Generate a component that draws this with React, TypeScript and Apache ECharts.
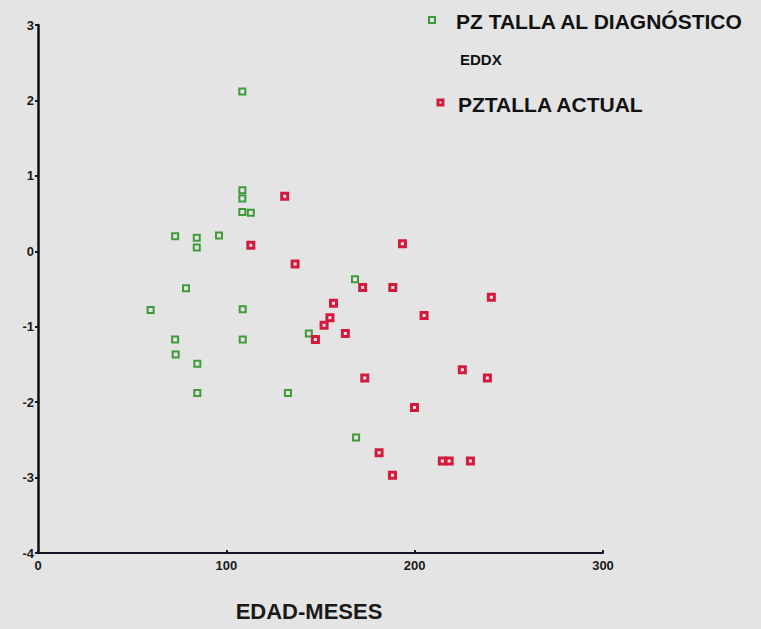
import React, { useEffect, useRef } from "react";
import * as echarts from "echarts";

const diagX = [108.5, 108.5, 108.5, 108.5, 113, 72.8, 84.3, 84.3, 96.1, 78.6, 59.8, 108.7, 72.8, 108.7, 73.1, 84.6, 84.6, 132.7, 143.8, 168.3, 168.9];
const diagY = [2.12, 0.81, 0.7, 0.52, 0.51, 0.2, 0.18, 0.05, 0.21, -0.49, -0.78, -0.77, -1.17, -1.17, -1.37, -1.49, -1.88, -1.88, -1.09, -0.37, -2.47];

const actX = [131, 113, 136.5, 147.3, 193.5, 172.4, 188.4, 240.7, 156.9, 155, 205, 151.9, 163.2, 173.5, 225.3, 238.6, 199.9, 181.1, 214.7, 218.3, 229.6, 188.2];
const actY = [0.73, 0.08, -0.17, -1.17, 0.1, -0.48, -0.48, -0.61, -0.69, -0.88, -0.85, -0.98, -1.09, -1.68, -1.57, -1.68, -2.07, -2.67, -2.78, -2.78, -2.78, -2.97];

const xTicks = [0, 100, 200, 300];
const yTicks = [-4, -3, -2, -1, 0, 1, 2, 3];

const legendDiag = "PZ TALLA AL DIAGNÓSTICO";
const legendSub = "EDDX";
const legendAct = "PZTALLA ACTUAL";
const xTitle = "EDAD-MESES";

const FONT = "'Liberation Sans', Arial, sans-serif";
const GREEN = "#3f9a3a";
const RED = "#d31a3d";

export default function App() {
  const ref = useRef<HTMLDivElement>(null);
  useEffect(() => {
    if (!ref.current) return;
    const chart = echarts.init(ref.current, null, { renderer: "svg" });
    const diag = diagX.map((x, i) => [x, diagY[i]]);
    const act = actX.map((x, i) => [x, actY[i]]);
    chart.setOption({
      animation: false,
      backgroundColor: "#e4e4e4",
      grid: { left: 38, right: 158, top: 25, bottom: 76 },
      xAxis: {
        type: "value",
        min: xTicks[0],
        max: xTicks[xTicks.length - 1],
        interval: 100,
        axisLine: { onZero: false, lineStyle: { color: "#15152a", width: 2 } },
        axisTick: { show: true, length: 3, inside: true, lineStyle: { color: "#1a1a1a", width: 2 } },
        axisLabel: { fontFamily: FONT, fontWeight: "bold", fontSize: 13, color: "#1a1a1a", margin: 6 },
        splitLine: { show: false },
      },
      yAxis: {
        type: "value",
        min: yTicks[0],
        max: yTicks[yTicks.length - 1],
        interval: 1,
        axisLine: { onZero: false, lineStyle: { color: "#111", width: 2.5 } },
        axisTick: { show: true, length: 3, lineStyle: { color: "#1a1a1a", width: 2 } },
        axisLabel: { fontFamily: FONT, fontWeight: "bold", fontSize: 13, color: "#1a1a1a", margin: 4 },
        splitLine: { show: false },
      },
      series: [
        {
          name: legendDiag,
          type: "scatter",
          data: diag,
          symbol: "rect",
          symbolSize: 6,
          itemStyle: { color: "#e4e4e4", borderColor: GREEN, borderWidth: 2, opacity: 1 },
        },
        {
          name: legendAct,
          type: "scatter",
          data: act,
          symbol: "rect",
          symbolSize: 6,
          itemStyle: { color: "#f6e6e8", borderColor: RED, borderWidth: 3, opacity: 1 },
        },
      ],
      graphic: [
        { type: "rect", shape: { x: 429, y: 17, width: 6, height: 6 }, style: { fill: "#e4e4e4", stroke: GREEN, lineWidth: 2 } },
        { type: "text", x: 456, y: 21, style: { text: legendDiag, font: `bold 21px ${FONT}`, fill: "#111", verticalAlign: "middle" } },
        { type: "text", x: 460, y: 59, style: { text: legendSub, font: `bold 15px ${FONT}`, fill: "#111", verticalAlign: "middle" } },
        { type: "rect", shape: { x: 438, y: 100, width: 5, height: 5 }, style: { fill: "#f6e6e8", stroke: RED, lineWidth: 3 } },
        { type: "text", x: 458, y: 104, style: { text: legendAct, font: `bold 21px ${FONT}`, fill: "#111", verticalAlign: "middle" } },
        { type: "text", x: 309, y: 611, style: { text: xTitle, font: `bold 22px ${FONT}`, fill: "#1a1a1a", align: "center", verticalAlign: "middle" } },
      ],
    });
    return () => chart.dispose();
  }, []);
  return <div ref={ref} style={{ position: "absolute", left: 0, top: 0, width: 761, height: 629 }} />;
}
